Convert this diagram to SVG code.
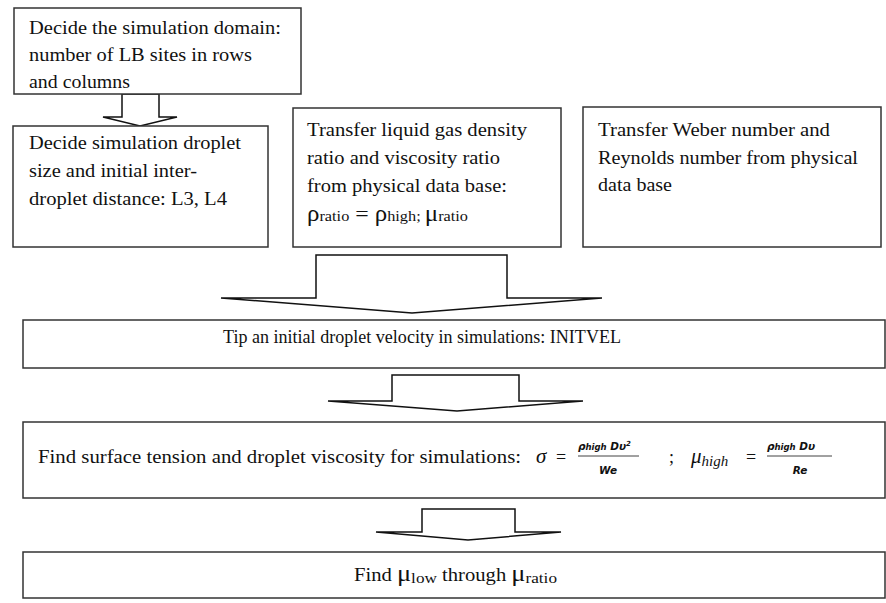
<svg xmlns="http://www.w3.org/2000/svg" width="886" height="603" viewBox="0 0 886 603">
<style>
.box{fill:#fff;stroke:#333;stroke-width:1.5}
.arr{fill:#fff;stroke:#111;stroke-width:1.5;stroke-linejoin:miter}
text{font-family:"Liberation Serif","Times New Roman",serif;font-size:18px;fill:#111}
.sub{font-size:15px}
.gr{font-size:23px}
.m{font-family:"DejaVu Sans",sans-serif;font-style:italic;font-weight:bold;font-size:10.5px}
.mi{font-family:"Liberation Serif",serif;font-style:italic;font-size:21px}
</style>
<rect width="886" height="603" fill="#fff"/>
<g id="connectors">
<polygon class="arr" points="122,94 159,94 159,117 177,117 140,126 103,117 122,117"/>
<polygon class="arr" points="316,255 507,255 507,298 602,298 412,313 221,298 316,298"/>
<polygon class="arr" points="392,375 519,375 519,401 583,401 457,411 328,401 392,401"/>
<polygon class="arr" points="422,509 515,509 515,532 561,532 468,540 376,532 422,532"/>
</g>
<g id="n1">
<rect class="box" x="14" y="8" width="287" height="86"/>
<text x="29" y="34" textLength="252" lengthAdjust="spacingAndGlyphs">Decide the simulation  domain:</text>
<text x="29" y="61" textLength="223" lengthAdjust="spacingAndGlyphs">number of LB sites in rows</text>
<text x="29" y="88" textLength="101" lengthAdjust="spacingAndGlyphs">and columns</text>
</g>
<g id="n2">
<rect class="box" x="13" y="126" width="255" height="121"/>
<text x="29" y="149" textLength="212" lengthAdjust="spacingAndGlyphs">Decide simulation  droplet</text>
<text x="29" y="177" textLength="168" lengthAdjust="spacingAndGlyphs">size and initial  inter-</text>
<text x="29" y="205" textLength="198" lengthAdjust="spacingAndGlyphs">droplet distance: L3, L4</text>
</g>
<g id="n3">
<rect class="box" x="293" y="108" width="268" height="139"/>
<text x="307" y="136" textLength="220" lengthAdjust="spacingAndGlyphs">Transfer liquid  gas density</text>
<text x="307" y="164" textLength="193" lengthAdjust="spacingAndGlyphs">ratio and viscosity  ratio</text>
<text x="307" y="192" textLength="200" lengthAdjust="spacingAndGlyphs">from physical  data base:</text>
<text x="307" y="221" textLength="161" lengthAdjust="spacingAndGlyphs"><tspan class="gr">ρ</tspan><tspan class="sub">ratio</tspan><tspan font-size="22"> = </tspan><tspan class="gr">ρ</tspan><tspan class="sub">high; </tspan><tspan class="gr">μ</tspan><tspan class="sub">ratio</tspan></text>
</g>
<g id="n4">
<rect class="box" x="583" y="107" width="298" height="140"/>
<text x="598" y="136" textLength="232" lengthAdjust="spacingAndGlyphs">Transfer Weber number  and</text>
<text x="598" y="164" textLength="260" lengthAdjust="spacingAndGlyphs">Reynolds number  from physical</text>
<text x="598" y="191" textLength="74" lengthAdjust="spacingAndGlyphs">data base</text>
</g>
<g id="n5">
<rect class="box" x="23" y="320" width="862" height="48"/>
<text x="223" y="343" textLength="398" lengthAdjust="spacingAndGlyphs">Tip an initial  droplet velocity in simulations:  INITVEL</text>
</g>
<g id="n6">
<rect class="box" x="23" y="422" width="862" height="76"/>
<text x="38" y="463" textLength="483" lengthAdjust="spacingAndGlyphs">Find surface tension and droplet viscosity for simulations:</text>
<text class="mi" x="536" y="463">σ</text>
<text x="556" y="463">=</text>
<text class="m" x="578" y="450">ρ<tspan font-size="8.5">high</tspan> Dυ<tspan font-size="7" dy="-4">2</tspan></text>
<line x1="578" y1="456" x2="639" y2="456" stroke="#111" stroke-width="0.8"/>
<text class="m" x="608" y="474" text-anchor="middle">We</text>
<text x="669" y="463">;</text>
<text class="mi" x="691" y="463">μ<tspan font-size="15" dy="3">high</tspan></text>
<text x="746" y="463">=</text>
<text class="m" x="767" y="450">ρ<tspan font-size="8.5">high</tspan> Dυ</text>
<line x1="767" y1="456" x2="832" y2="456" stroke="#111" stroke-width="0.8"/>
<text class="m" x="800" y="474" text-anchor="middle">Re</text>
</g>
<g id="n7">
<rect class="box" x="23" y="552" width="862" height="46"/>
<text x="354" y="581" font-size="19" textLength="203" lengthAdjust="spacingAndGlyphs">Find <tspan class="gr">μ</tspan><tspan class="sub" dy="2">low</tspan><tspan dy="-2"> through </tspan><tspan class="gr">μ</tspan><tspan class="sub" dy="2">ratio</tspan></text>
</g>
</svg>
